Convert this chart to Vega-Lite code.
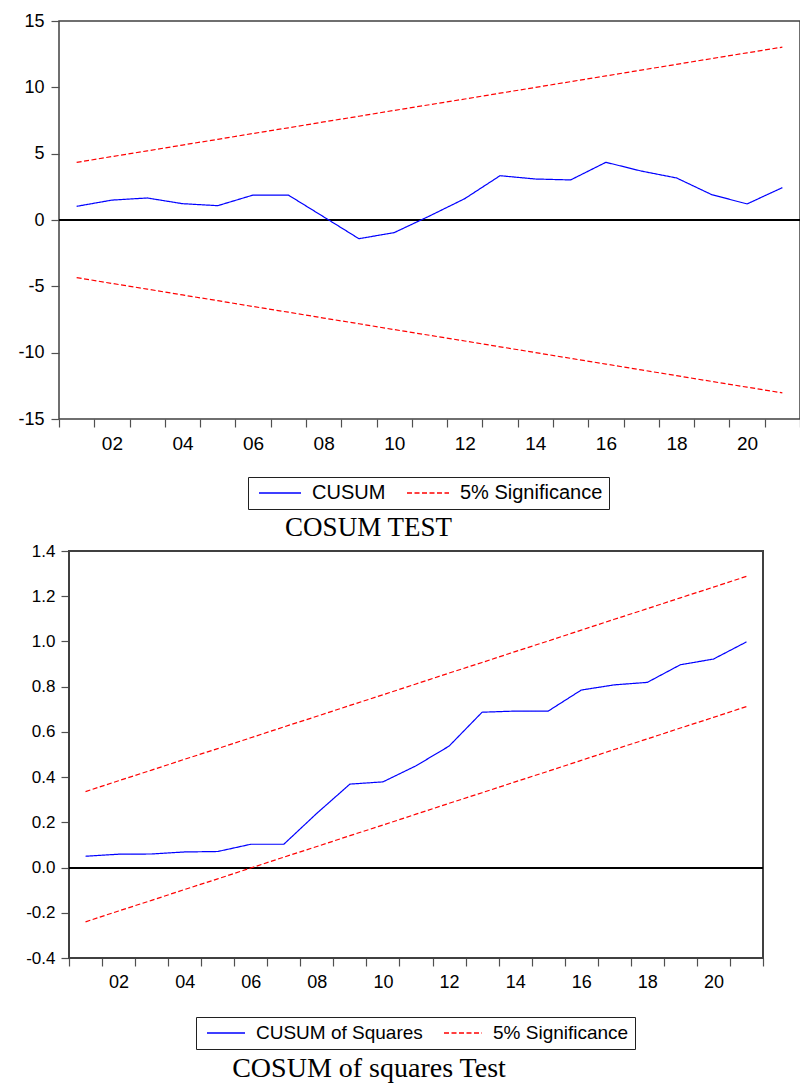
{
  "$schema": "https://vega.github.io/schema/vega-lite/v6.json",
  "padding": {"left": 0, "top": 11, "right": 0, "bottom": 0},
  "autosize": {"type": "pad"},
  "background": "white",
  "spacing": 0,
  "config": {
    "font": "Liberation Sans",
    "view": {"stroke": "#404040", "strokeWidth": 1.5},
    "axis": {"domain": false, "grid": false, "labelColor": "black", "tickColor": "#505050", "tickWidth": 1.2, "labelFont": "Liberation Sans", "title": null},
    "legend": {"labelFont": "Liberation Sans", "labelColor": "black", "labelLimit": 400}
  },
  "datasets": {
    "cusum": [
      {"t": 1, "series": "CUSUM", "line": "CUSUM", "value": 1.03},
      {"t": 2, "series": "CUSUM", "line": "CUSUM", "value": 1.5},
      {"t": 3, "series": "CUSUM", "line": "CUSUM", "value": 1.66},
      {"t": 4, "series": "CUSUM", "line": "CUSUM", "value": 1.23},
      {"t": 5, "series": "CUSUM", "line": "CUSUM", "value": 1.08},
      {"t": 6, "series": "CUSUM", "line": "CUSUM", "value": 1.88},
      {"t": 7, "series": "CUSUM", "line": "CUSUM", "value": 1.88},
      {"t": 8, "series": "CUSUM", "line": "CUSUM", "value": 0.24},
      {"t": 9, "series": "CUSUM", "line": "CUSUM", "value": -1.41},
      {"t": 10, "series": "CUSUM", "line": "CUSUM", "value": -0.95},
      {"t": 11, "series": "CUSUM", "line": "CUSUM", "value": 0.3},
      {"t": 12, "series": "CUSUM", "line": "CUSUM", "value": 1.61},
      {"t": 13, "series": "CUSUM", "line": "CUSUM", "value": 3.34},
      {"t": 14, "series": "CUSUM", "line": "CUSUM", "value": 3.09},
      {"t": 15, "series": "CUSUM", "line": "CUSUM", "value": 3.02},
      {"t": 16, "series": "CUSUM", "line": "CUSUM", "value": 4.35},
      {"t": 17, "series": "CUSUM", "line": "CUSUM", "value": 3.69},
      {"t": 18, "series": "CUSUM", "line": "CUSUM", "value": 3.17},
      {"t": 19, "series": "CUSUM", "line": "CUSUM", "value": 1.91},
      {"t": 20, "series": "CUSUM", "line": "CUSUM", "value": 1.21},
      {"t": 21, "series": "CUSUM", "line": "CUSUM", "value": 2.44},
      {"t": 1, "series": "5% Significance", "line": "upper", "value": 4.34},
      {"t": 2, "series": "5% Significance", "line": "upper", "value": 4.78},
      {"t": 3, "series": "5% Significance", "line": "upper", "value": 5.21},
      {"t": 4, "series": "5% Significance", "line": "upper", "value": 5.65},
      {"t": 5, "series": "5% Significance", "line": "upper", "value": 6.08},
      {"t": 6, "series": "5% Significance", "line": "upper", "value": 6.52},
      {"t": 7, "series": "5% Significance", "line": "upper", "value": 6.95},
      {"t": 8, "series": "5% Significance", "line": "upper", "value": 7.39},
      {"t": 9, "series": "5% Significance", "line": "upper", "value": 7.82},
      {"t": 10, "series": "5% Significance", "line": "upper", "value": 8.26},
      {"t": 11, "series": "5% Significance", "line": "upper", "value": 8.69},
      {"t": 12, "series": "5% Significance", "line": "upper", "value": 9.12},
      {"t": 13, "series": "5% Significance", "line": "upper", "value": 9.56},
      {"t": 14, "series": "5% Significance", "line": "upper", "value": 9.99},
      {"t": 15, "series": "5% Significance", "line": "upper", "value": 10.43},
      {"t": 16, "series": "5% Significance", "line": "upper", "value": 10.86},
      {"t": 17, "series": "5% Significance", "line": "upper", "value": 11.3},
      {"t": 18, "series": "5% Significance", "line": "upper", "value": 11.73},
      {"t": 19, "series": "5% Significance", "line": "upper", "value": 12.17},
      {"t": 20, "series": "5% Significance", "line": "upper", "value": 12.6},
      {"t": 21, "series": "5% Significance", "line": "upper", "value": 13.03},
      {"t": 1, "series": "5% Significance", "line": "lower", "value": -4.34},
      {"t": 2, "series": "5% Significance", "line": "lower", "value": -4.78},
      {"t": 3, "series": "5% Significance", "line": "lower", "value": -5.21},
      {"t": 4, "series": "5% Significance", "line": "lower", "value": -5.65},
      {"t": 5, "series": "5% Significance", "line": "lower", "value": -6.08},
      {"t": 6, "series": "5% Significance", "line": "lower", "value": -6.52},
      {"t": 7, "series": "5% Significance", "line": "lower", "value": -6.95},
      {"t": 8, "series": "5% Significance", "line": "lower", "value": -7.39},
      {"t": 9, "series": "5% Significance", "line": "lower", "value": -7.82},
      {"t": 10, "series": "5% Significance", "line": "lower", "value": -8.26},
      {"t": 11, "series": "5% Significance", "line": "lower", "value": -8.69},
      {"t": 12, "series": "5% Significance", "line": "lower", "value": -9.12},
      {"t": 13, "series": "5% Significance", "line": "lower", "value": -9.56},
      {"t": 14, "series": "5% Significance", "line": "lower", "value": -9.99},
      {"t": 15, "series": "5% Significance", "line": "lower", "value": -10.43},
      {"t": 16, "series": "5% Significance", "line": "lower", "value": -10.86},
      {"t": 17, "series": "5% Significance", "line": "lower", "value": -11.3},
      {"t": 18, "series": "5% Significance", "line": "lower", "value": -11.73},
      {"t": 19, "series": "5% Significance", "line": "lower", "value": -12.17},
      {"t": 20, "series": "5% Significance", "line": "lower", "value": -12.6},
      {"t": 21, "series": "5% Significance", "line": "lower", "value": -13.03}
    ],
    "cusumsq": [
      {"t": 1, "series": "CUSUM of Squares", "line": "CUSUMSQ", "value": 0.05},
      {"t": 2, "series": "CUSUM of Squares", "line": "CUSUMSQ", "value": 0.059},
      {"t": 3, "series": "CUSUM of Squares", "line": "CUSUMSQ", "value": 0.06},
      {"t": 4, "series": "CUSUM of Squares", "line": "CUSUMSQ", "value": 0.069},
      {"t": 5, "series": "CUSUM of Squares", "line": "CUSUMSQ", "value": 0.071},
      {"t": 6, "series": "CUSUM of Squares", "line": "CUSUMSQ", "value": 0.103},
      {"t": 7, "series": "CUSUM of Squares", "line": "CUSUMSQ", "value": 0.103},
      {"t": 8, "series": "CUSUM of Squares", "line": "CUSUMSQ", "value": 0.24},
      {"t": 9, "series": "CUSUM of Squares", "line": "CUSUMSQ", "value": 0.369},
      {"t": 10, "series": "CUSUM of Squares", "line": "CUSUMSQ", "value": 0.379},
      {"t": 11, "series": "CUSUM of Squares", "line": "CUSUMSQ", "value": 0.45},
      {"t": 12, "series": "CUSUM of Squares", "line": "CUSUMSQ", "value": 0.537},
      {"t": 13, "series": "CUSUM of Squares", "line": "CUSUMSQ", "value": 0.687},
      {"t": 14, "series": "CUSUM of Squares", "line": "CUSUMSQ", "value": 0.692},
      {"t": 15, "series": "CUSUM of Squares", "line": "CUSUMSQ", "value": 0.692},
      {"t": 16, "series": "CUSUM of Squares", "line": "CUSUMSQ", "value": 0.785},
      {"t": 17, "series": "CUSUM of Squares", "line": "CUSUMSQ", "value": 0.808},
      {"t": 18, "series": "CUSUM of Squares", "line": "CUSUMSQ", "value": 0.819},
      {"t": 19, "series": "CUSUM of Squares", "line": "CUSUMSQ", "value": 0.897},
      {"t": 20, "series": "CUSUM of Squares", "line": "CUSUMSQ", "value": 0.922},
      {"t": 21, "series": "CUSUM of Squares", "line": "CUSUMSQ", "value": 0.998},
      {"t": 1, "series": "5% Significance", "line": "upper", "value": 0.336},
      {"t": 2, "series": "5% Significance", "line": "upper", "value": 0.384},
      {"t": 3, "series": "5% Significance", "line": "upper", "value": 0.431},
      {"t": 4, "series": "5% Significance", "line": "upper", "value": 0.479},
      {"t": 5, "series": "5% Significance", "line": "upper", "value": 0.526},
      {"t": 6, "series": "5% Significance", "line": "upper", "value": 0.574},
      {"t": 7, "series": "5% Significance", "line": "upper", "value": 0.622},
      {"t": 8, "series": "5% Significance", "line": "upper", "value": 0.669},
      {"t": 9, "series": "5% Significance", "line": "upper", "value": 0.717},
      {"t": 10, "series": "5% Significance", "line": "upper", "value": 0.764},
      {"t": 11, "series": "5% Significance", "line": "upper", "value": 0.812},
      {"t": 12, "series": "5% Significance", "line": "upper", "value": 0.86},
      {"t": 13, "series": "5% Significance", "line": "upper", "value": 0.907},
      {"t": 14, "series": "5% Significance", "line": "upper", "value": 0.955},
      {"t": 15, "series": "5% Significance", "line": "upper", "value": 1.002},
      {"t": 16, "series": "5% Significance", "line": "upper", "value": 1.05},
      {"t": 17, "series": "5% Significance", "line": "upper", "value": 1.098},
      {"t": 18, "series": "5% Significance", "line": "upper", "value": 1.145},
      {"t": 19, "series": "5% Significance", "line": "upper", "value": 1.193},
      {"t": 20, "series": "5% Significance", "line": "upper", "value": 1.24},
      {"t": 21, "series": "5% Significance", "line": "upper", "value": 1.288},
      {"t": 1, "series": "5% Significance", "line": "lower", "value": -0.24},
      {"t": 2, "series": "5% Significance", "line": "lower", "value": -0.192},
      {"t": 3, "series": "5% Significance", "line": "lower", "value": -0.145},
      {"t": 4, "series": "5% Significance", "line": "lower", "value": -0.097},
      {"t": 5, "series": "5% Significance", "line": "lower", "value": -0.05},
      {"t": 6, "series": "5% Significance", "line": "lower", "value": -0.002},
      {"t": 7, "series": "5% Significance", "line": "lower", "value": 0.046},
      {"t": 8, "series": "5% Significance", "line": "lower", "value": 0.093},
      {"t": 9, "series": "5% Significance", "line": "lower", "value": 0.141},
      {"t": 10, "series": "5% Significance", "line": "lower", "value": 0.188},
      {"t": 11, "series": "5% Significance", "line": "lower", "value": 0.236},
      {"t": 12, "series": "5% Significance", "line": "lower", "value": 0.284},
      {"t": 13, "series": "5% Significance", "line": "lower", "value": 0.331},
      {"t": 14, "series": "5% Significance", "line": "lower", "value": 0.379},
      {"t": 15, "series": "5% Significance", "line": "lower", "value": 0.426},
      {"t": 16, "series": "5% Significance", "line": "lower", "value": 0.474},
      {"t": 17, "series": "5% Significance", "line": "lower", "value": 0.522},
      {"t": 18, "series": "5% Significance", "line": "lower", "value": 0.569},
      {"t": 19, "series": "5% Significance", "line": "lower", "value": 0.617},
      {"t": 20, "series": "5% Significance", "line": "lower", "value": 0.664},
      {"t": 21, "series": "5% Significance", "line": "lower", "value": 0.712}
    ]
  },
  "resolve": {"scale": {"color": "independent", "strokeDash": "independent"}, "legend": {"color": "independent", "strokeDash": "independent"}},
  "vconcat": [
    {
      "width": 741,
      "height": 398,
      "data": {"name": "cusum"},
      "title": {"text": "COSUM TEST", "orient": "bottom", "anchor": "middle", "dx": -61, "offset": 5, "font": "Liberation Serif", "fontSize": 27, "fontWeight": "normal", "color": "black"},
      "resolve": {"axis": {"x": "independent"}},
      "layer": [
        {
          "mark": {"type": "rule", "color": "black", "strokeWidth": 1},
          "encoding": {
            "y": {"datum": 0, "type": "quantitative", "scale": {"domain": [-15, 15], "nice": false}, "axis": {"values": [-15, -10, -5, 0, 5, 10, 15], "tickSize": 8, "labelPadding": 7, "labelFontSize": 18, "minExtent": 58, "maxExtent": 58, "labelExpr": "datum.value < 0 ? '-' + (-datum.value) : '' + datum.value"}},
            "x": {"datum": 0.5, "type": "quantitative", "scale": {"domain": [0.5, 21.5], "nice": false, "zero": false}, "axis": {"orient": "bottom", "values": [2, 4, 6, 8, 10, 12, 14, 16, 18, 20], "ticks": false, "tickSize": 0, "labelPadding": 15, "labelFontSize": 19, "labelExpr": "datum.value < 10 ? '0' + datum.value : '' + datum.value"}},
            "x2": {"datum": 21.5}
          }
        },
        {
          "mark": {"type": "line", "strokeWidth": 1.2},
          "encoding": {
            "x": {"field": "t", "type": "quantitative", "scale": {"domain": [0.5, 21.5], "nice": false, "zero": false}, "axis": {"orient": "bottom", "values": [0.5, 1.5, 2.5, 3.5, 4.5, 5.5, 6.5, 7.5, 8.5, 9.5, 10.5, 11.5, 12.5, 13.5, 14.5, 15.5, 16.5, 17.5, 18.5, 19.5, 20.5, 21.5], "labels": false, "tickSize": 8}},
            "y": {"field": "value", "type": "quantitative"},
            "detail": {"field": "line", "type": "nominal"},
            "color": {"field": "series", "type": "nominal", "scale": {"domain": ["CUSUM", "5% Significance"], "range": ["#0000ff", "#ff0000"]},
              "legend": {"title": null, "orient": "none", "legendX": 189, "legendY": 456, "direction": "horizontal", "strokeColor": "#202020", "padding": 6, "labelFontSize": 20, "symbolType": "stroke", "symbolSize": 1764, "clipHeight": 20, "symbolStrokeWidth": 1.3, "labelOffset": 10, "columnPadding": 16, "symbolOffset": 4}},
            "strokeDash": {"field": "series", "type": "nominal", "scale": {"domain": ["CUSUM", "5% Significance"], "range": [[1, 0], [5, 2.5]]},
              "legend": {"title": null, "orient": "none", "legendX": 189, "legendY": 456, "direction": "horizontal", "strokeColor": "#202020", "padding": 6, "labelFontSize": 20, "symbolType": "stroke", "symbolSize": 1764, "clipHeight": 20, "symbolStrokeWidth": 1.3, "labelOffset": 10, "columnPadding": 16, "symbolOffset": 4}}
          }
        }
      ]
    },
    {
      "width": 704,
      "height": 407,
      "view": {"stroke": null},
      "data": {"name": "cusumsq"},
      "title": {"text": "COSUM of squares Test", "orient": "bottom", "anchor": "middle", "dx": -42, "offset": 5, "font": "Liberation Serif", "fontSize": 28, "fontWeight": "normal", "color": "black"},
      "resolve": {"axis": {"x": "independent"}},
      "layer": [
        {
          "mark": {"type": "rect", "fill": "white", "fillOpacity": 0, "stroke": "#404040", "strokeWidth": 1.5},
          "encoding": {
            "x": {"datum": 0.5, "type": "quantitative", "scale": {"domain": [0.1974, 21.5], "nice": false, "zero": false}, "axis": {"orient": "bottom", "values": [2, 4, 6, 8, 10, 12, 14, 16, 18, 20], "ticks": false, "tickSize": 0, "labelPadding": 15, "labelFontSize": 18, "labelExpr": "datum.value < 10 ? '0' + datum.value : '' + datum.value"}},
            "x2": {"datum": 21.5},
            "y": {"datum": -0.4, "type": "quantitative", "scale": {"domain": [-0.4, 1.4], "nice": false}, "axis": {"values": [-0.4, -0.2, 0, 0.2, 0.4, 0.6, 0.8, 1.0, 1.2, 1.4], "offset": -10, "tickSize": 8, "labelPadding": 6, "labelFontSize": 17, "minExtent": 58, "maxExtent": 58, "labelExpr": "datum.value < 0 ? '-' + format(-datum.value, '.1f') : format(datum.value, '.1f')"}},
            "y2": {"datum": 1.4}
          }
        },
        {
          "mark": {"type": "rule", "color": "black", "strokeWidth": 1},
          "encoding": {
            "y": {"datum": 0, "type": "quantitative"},
            "x": {"datum": 0.5, "type": "quantitative", "axis": null},
            "x2": {"datum": 21.5}
          }
        },
        {
          "mark": {"type": "line", "strokeWidth": 1.2},
          "encoding": {
            "x": {"field": "t", "type": "quantitative", "axis": {"orient": "bottom", "values": [0.5, 1.5, 2.5, 3.5, 4.5, 5.5, 6.5, 7.5, 8.5, 9.5, 10.5, 11.5, 12.5, 13.5, 14.5, 15.5, 16.5, 17.5, 18.5, 19.5, 20.5, 21.5], "labels": false, "tickSize": 8}},
            "y": {"field": "value", "type": "quantitative"},
            "detail": {"field": "line", "type": "nominal"},
            "color": {"field": "series", "type": "nominal", "scale": {"domain": ["CUSUM of Squares", "5% Significance"], "range": ["#0000ff", "#ff0000"]},
              "legend": {"title": null, "orient": "none", "legendX": 137, "legendY": 466, "direction": "horizontal", "strokeColor": "#202020", "padding": 6, "labelFontSize": 19, "symbolType": "stroke", "symbolSize": 1444, "clipHeight": 20, "symbolStrokeWidth": 1.3, "labelOffset": 10, "columnPadding": 16, "symbolOffset": 4}},
            "strokeDash": {"field": "series", "type": "nominal", "scale": {"domain": ["CUSUM of Squares", "5% Significance"], "range": [[1, 0], [5, 2.5]]},
              "legend": {"title": null, "orient": "none", "legendX": 137, "legendY": 466, "direction": "horizontal", "strokeColor": "#202020", "padding": 6, "labelFontSize": 19, "symbolType": "stroke", "symbolSize": 1444, "clipHeight": 20, "symbolStrokeWidth": 1.3, "labelOffset": 10, "columnPadding": 16, "symbolOffset": 4}}
          }
        }
      ]
    }
  ]
}
